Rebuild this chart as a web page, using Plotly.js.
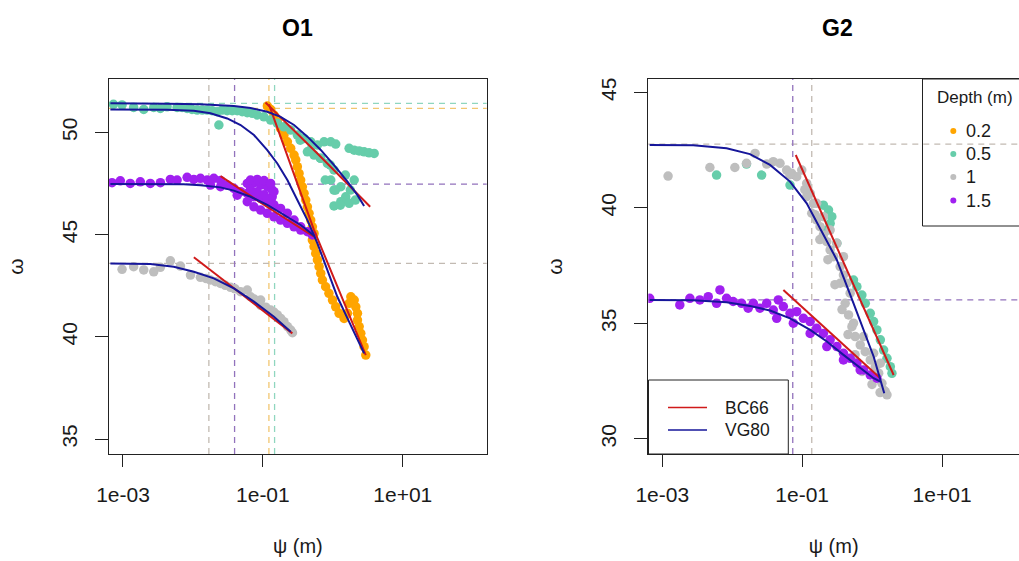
<!DOCTYPE html>
<html>
<head>
<meta charset="utf-8">
<script src="https://cdn.plot.ly/plotly-3.0.1.min.js"></script>
<style>
html,body{margin:0;padding:0;background:#fff;}
#chart{width:1019px;height:561px;}
</style>
</head>
<body>
<div id="chart"></div>
<script>
// ================= DATA =================
const depthLabels = ['0.2', '0.5', '1', '1.5'];
const depthColors = ['#FFA500', '#66CDAA', '#BEBEBE', '#A020F0'];
const dashColors  = ['#F2C670', '#8FD6BF', '#C2BAB2', '#9272BC'];
const modelNames  = ['BC66', 'VG80'];
const modelColors = ['#D01A1A', '#16169A'];
const panelTitles = ['O1', 'G2'];
const xTickVals = [0.001, 0.1, 10];
const xTickText = ['1e-03', '1e-01', '1e+01'];
const yTicksO1 = [35, 40, 45, 50];
const yTicksG2 = [30, 35, 40, 45];

// ---- O1 observations (psi in m, omega) ----
const O1_d02_psi = [0.116,0.129,0.144,0.161,0.179,0.200,0.224,0.250,0.279,0.295,0.311,0.329,0.347,0.367,0.388,0.410,0.433,0.457,0.483,0.510,0.539,0.510,0.539,0.570,0.602,0.636,0.672,0.71,0.79,0.88,0.99,1.10,1.23,1.45,1.62,1.71,1.81,2.02,2.13,2.25,2.25,2.38,2.51,2.65,2.80,2.96];
const O1_d02_w   = [51.29,51.12,50.85,50.52,50.19,49.87,49.54,49.22,48.89,48.65,48.32,47.99,47.67,47.34,47.02,46.69,46.36,46.04,45.71,45.38,45.06,44.73,44.41,44.08,43.76,43.43,43.10,42.78,42.45,42.13,41.80,41.47,41.15,40.90,41.15,41.64,41.96,41.80,41.47,41.15,40.82,40.50,40.17,39.84,39.52,39.11];

const O1_d05_psi = [7.3e-4,9.7e-4,1.42e-3,1.98e-3,2.75e-3,4.27e-3,5.94e-3,8.26e-3,0.0115,0.0160,0.0222,0.0235,0.0309,0.0430,0.0598,0.0832,0.1035,0.129,0.161,0.200,0.250,0.311,0.388,0.483,0.602,0.750,0.934,1.10,0.433,0.539,0.672,0.837,1.04,0.934,1.04,1.30,1.53,1.30,1.04,1.71,2.02,1.71,2.02,2.38,2.80,3.30,3.90,3.42e-3,7.0e-3,9.7e-3,0.0136,0.0188,0.0262,0.0365,0.0507,0.0705,0.342,0.476,0.662,0.92,0.78,1.09,1.51,1.78,1.28,2.10];
const O1_d05_w   = [51.37,51.34,51.22,51.12,51.22,51.25,51.22,51.17,51.09,51.09,51.01,50.36,51.06,51.06,50.96,50.85,50.76,50.60,50.44,50.27,50.11,49.87,49.70,49.54,49.38,49.54,49.54,49.43,49.05,48.89,48.73,48.48,48.16,47.67,47.18,47.34,46.85,46.61,46.40,46.53,47.67,49.22,49.13,49.09,49.05,49.00,48.97,51.17,51.22,51.12,51.09,51.06,51.09,51.06,51.01,50.93,49.62,49.13,48.74,48.40,47.67,47.18,47.91,47.18,46.44,46.69];

const O1_d1_psi = [9.7e-4,1.42e-3,1.98e-3,2.75e-3,3.42e-3,4.76e-3,6.63e-3,9.22e-3,0.0128,0.0178,0.0248,0.0345,0.0480,0.0598,0.0667,0.0929,0.0929,0.129,0.161,0.200,0.250,0.0155,0.021,0.029,0.040,0.075,0.110,0.145,0.180,0.225,0.265];
const O1_d1_w   = [43.30,43.43,43.27,43.18,43.40,43.72,43.46,43.02,42.91,42.78,42.61,42.42,42.21,42.29,41.96,41.80,41.54,41.31,41.07,40.74,40.33,42.85,42.70,42.52,42.35,41.85,41.45,41.20,40.90,40.50,40.20];

const O1_d15_psi = [6.96e-4,9.16e-4,1.27e-3,1.77e-3,2.46e-3,3.43e-3,4.76e-3,5.94e-3,8.26e-3,0.0103,0.0128,0.0160,0.0199,0.0248,0.0178,0.0248,0.0309,0.0385,0.0480,0.0430,0.0598,0.0598,0.0745,0.0745,0.0929,0.0929,0.1156,0.1156,0.144,0.144,0.0598,0.0745,0.0929,0.1156,0.136,0.136,0.179,0.179,0.224,0.224,0.279,0.279,0.347,0.347,0.433,0.510,0.0665,0.0830,0.104,0.129,0.144,0.136,0.0665,0.083,0.104,0.12];
const O1_d15_w   = [47.54,47.63,47.50,47.58,47.50,47.54,47.70,47.67,47.80,47.70,47.75,47.67,47.75,47.64,47.42,47.34,47.42,47.26,47.10,46.93,47.01,46.61,46.85,46.36,46.77,46.20,46.61,46.04,46.45,45.87,47.50,47.54,47.42,47.34,47.18,46.85,46.28,45.71,46.04,45.55,45.71,45.38,45.38,45.22,45.14,44.98,47.67,47.70,47.64,47.50,47.10,46.50,47.20,47.10,46.95,46.75];

// ---- O1 fitted curves ----
const O1_vg02_psi = [6.6e-4,1.42e-3,4.27e-3,0.0103,0.0178,0.0309,0.0480,0.0745,0.1156,0.161,0.224,0.311,0.433,0.602,0.837,1.16,1.62,2.25,2.80];
const O1_vg02_w   = [51.12,51.12,51.11,51.06,50.93,50.68,50.36,49.87,49.13,48.48,47.67,46.69,45.71,44.57,43.27,41.96,40.90,39.92,39.19];
const O1_vg05_psi = [6.6e-4,1.42e-3,4.27e-3,0.0128,0.0385,0.0667,0.1156,0.179,0.279,0.433,0.672,1.04,1.62,2.25,2.80];
const O1_vg05_w   = [51.42,51.42,51.40,51.37,51.29,51.19,51.01,50.76,50.36,49.79,49.14,48.40,47.59,46.93,46.40];
const O1_vg1_psi  = [6.6e-4,2.46e-3,5.32e-3,0.0103,0.0199,0.0385,0.0745,0.144,0.250];
const O1_vg1_w    = [43.59,43.56,43.43,43.18,42.86,42.37,41.72,40.98,40.25];
const O1_vg15_psi = [6.6e-4,2.46e-3,7.39e-3,0.0128,0.0248,0.0385,0.0667,0.1156,0.200,0.347,0.539];
const O1_vg15_w   = [47.47,47.47,47.46,47.41,47.31,47.15,46.85,46.45,45.96,45.47,44.95];
const O1_bc02_psi = [0.122,0.539,2.96];
const O1_bc02_w   = [51.37,45.22,39.11];
const O1_bc05_psi = [0.109,0.602,3.42];
const O1_bc05_w   = [51.46,48.97,46.36];
const O1_bc1_psi  = [0.0103,0.264];
const O1_bc1_w    = [43.89,40.17];
const O1_bc15_psi = [0.0248,0.1156,0.539];
const O1_bc15_w   = [47.86,46.35,44.90];

// ---- O1 reference (dashed) lines: psi_b and saturated omega ----
const O1_vlines = [0.122, 0.147, 0.0169, 0.0394];   // 0.2, 0.5, 1, 1.5
const O1_hlines = [51.17, 51.42, 43.59, 47.47];

// ---- G2 observations ----
const G2_d05_psi = [5.97e-3,0.0160,0.0263,0.0670,0.201,0.238,0.265,0.251,0.225,0.313,0.542,0.605,0.714,0.798,0.940,1.05,1.17,1.31,1.46,1.63,1.82,1.92];
const G2_d05_w   = [41.42,41.90,41.42,40.99,40.12,39.91,39.62,39.33,39.04,38.47,36.88,36.59,36.23,35.87,35.44,35.08,34.72,34.29,33.85,33.49,33.13,32.84];
const G2_d1_psi = [1.21e-3,4.79e-3,0.0109,0.0160,0.0212,0.0311,0.0386,0.0482,0.0600,0.0708,0.0835,0.0986,0.116,0.130,0.145,0.137,0.161,0.180,0.201,0.225,0.251,0.281,0.349,0.389,0.435,0.485,0.412,0.46,0.514,0.573,0.676,0.797,0.940,1.11,1.24,1.38,1.54,0.161,0.201,0.251,0.313,0.389,0.116,0.349,0.542,0.754,1.05,1.31,1.46,1.63,0.0667,0.109,0.152,0.179,0.233,0.294,0.371,0.452,0.569,0.716,0.996,1.30];
const G2_d1_w   = [41.38,41.75,41.75,41.93,42.36,41.90,42.00,41.93,41.64,41.50,41.35,41.64,41.06,40.63,40.20,39.77,39.48,39.19,38.83,38.54,38.18,37.89,37.46,37.10,36.74,36.31,35.87,35.37,34.86,34.43,34.07,33.78,33.42,33.13,32.85,32.41,32.05,40.20,39.62,39.04,38.47,37.89,40.49,36.74,35.01,34.43,33.71,33.28,32.12,31.91,41.44,40.79,39.71,38.63,37.76,36.68,35.60,34.52,33.65,32.92,32.36,32.01];
const G2_d15_psi = [6.6e-4,1.78e-3,2.48e-3,3.44e-3,4.54e-3,5.97e-3,6.67e-3,8.30e-3,0.0103,0.0136,0.0169,0.0200,0.0249,0.0311,0.0386,0.0456,0.0538,0.0670,0.0835,0.104,0.130,0.161,0.201,0.251,0.313,0.389,0.485,0.605,0.754,0.940,1.17,0.0432,0.0748,0.130,0.225,0.389,0.675];
const G2_d15_w   = [36.09,35.80,36.09,36.02,36.16,35.87,36.45,36.09,35.95,35.87,35.66,35.87,35.66,35.87,35.58,36.02,35.73,35.44,35.51,35.22,35.08,34.79,34.57,34.29,34.00,33.71,33.49,33.28,32.99,32.77,32.63,35.22,35.01,34.57,34.00,33.42,32.99];

// ---- G2 fitted curves ----
const G2_vg1_psi  = [6.6e-4,2.77e-3,8.30e-3,0.0179,0.0347,0.0670,0.116,0.180,0.313,0.542,1.05,1.49];
const G2_vg1_w    = [42.72,42.71,42.58,42.33,41.86,41.14,40.20,39.12,37.75,35.87,33.57,31.98];
const G2_vg15_psi = [6.6e-4,2.77e-3,8.30e-3,0.0179,0.0347,0.0670,0.130,0.225,0.389,0.675,1.05,1.31];
const G2_vg15_w   = [36.02,36.00,35.92,35.76,35.56,35.22,34.72,34.22,33.64,33.06,32.63,32.48];
const G2_bc1_psi  = [0.0809,0.389,2.03];
const G2_bc1_w    = [42.29,37.67,32.77];
const G2_bc15_psi = [0.0538,1.31];
const G2_bc15_w   = [36.45,32.63];

const G2_vlines = [0.137, 0.0733];   // 1, 1.5
const G2_hlines = [42.76, 36.02];

// ================= BUILD =================
const FONT = 'Arial, "Liberation Sans", sans-serif';
const TXT = '#1a1a1a';
const traces = [];

function pts(x, y, ci, xa, ya) {
  traces.push({type:'scatter', mode:'markers', x:x, y:y, xaxis:xa, yaxis:ya,
    marker:{color:depthColors[ci], size:9.5, line:{width:0}}, showlegend:false, hoverinfo:'skip'});
}
function curve(x, y, mi, xa, ya) {
  traces.push({type:'scatter', mode:'lines', x:x, y:y, xaxis:xa, yaxis:ya,
    line:{color:modelColors[mi], width:2}, showlegend:false, hoverinfo:'skip'});
}

// O1
pts(O1_d02_psi, O1_d02_w, 0, 'x', 'y');
pts(O1_d05_psi, O1_d05_w, 1, 'x', 'y');
pts(O1_d15_psi, O1_d15_w, 3, 'x', 'y');
pts(O1_d1_psi,  O1_d1_w,  2, 'x', 'y');
curve(O1_bc05_psi, O1_bc05_w, 0, 'x', 'y');
curve(O1_bc02_psi, O1_bc02_w, 0, 'x', 'y');
curve(O1_bc15_psi, O1_bc15_w, 0, 'x', 'y');
curve(O1_bc1_psi,  O1_bc1_w,  0, 'x', 'y');
curve(O1_vg05_psi, O1_vg05_w, 1, 'x', 'y');
curve(O1_vg02_psi, O1_vg02_w, 1, 'x', 'y');
curve(O1_vg15_psi, O1_vg15_w, 1, 'x', 'y');
curve(O1_vg1_psi,  O1_vg1_w,  1, 'x', 'y');
// G2
pts(G2_d05_psi, G2_d05_w, 1, 'x2', 'y2');
pts(G2_d1_psi,  G2_d1_w,  2, 'x2', 'y2');
pts(G2_d15_psi, G2_d15_w, 3, 'x2', 'y2');
curve(G2_bc1_psi,  G2_bc1_w,  0, 'x2', 'y2');
curve(G2_bc15_psi, G2_bc15_w, 0, 'x2', 'y2');
curve(G2_vg1_psi,  G2_vg1_w,  1, 'x2', 'y2');
curve(G2_vg15_psi, G2_vg15_w, 1, 'x2', 'y2');

// ---- dashed reference lines ----
const shapes = [];
const DASH = '6px,5px';
function vline(v, col, xa, ya) {
  shapes.push({type:'line', layer:'below', xref:xa, yref:ya+' domain', x0:v, x1:v, y0:0, y1:1,
    line:{color:col, width:1.3, dash:DASH}});
}
function hline(v, col, xa, ya) {
  shapes.push({type:'line', layer:'below', xref:xa+' domain', yref:ya, x0:0, x1:1, y0:v, y1:v,
    line:{color:col, width:1.3, dash:DASH}});
}
[0,1,2,3].forEach(i => { vline(O1_vlines[i], dashColors[i], 'x', 'y'); hline(O1_hlines[i], dashColors[i], 'x', 'y'); });
[2,3].forEach((c,i) => { vline(G2_vlines[i], dashColors[c], 'x2', 'y2'); hline(G2_hlines[i], dashColors[c], 'x2', 'y2'); });

// ---- geometry helpers (pixel -> paper) ----
const W = 1019, H = 561, ML = 109, MR = 0, MT = 79, MB = 107;
const PW = W - ML - MR, PH = H - MT - MB;
const px = v => (v - ML) / PW;
const py = v => (H - MB - v) / PH;

// ---- legend: Depth (m) ----
const annotations = [];
shapes.push({type:'rect', xref:'paper', yref:'paper', x0:px(922.5), x1:px(1030), y0:py(226), y1:py(79),
  line:{color:'#222', width:1}, fillcolor:'rgba(0,0,0,0)'});
annotations.push({xref:'paper', yref:'paper', x:px(935), y:py(98), xanchor:'left', yanchor:'middle',
  text:'Depth (m)', showarrow:false, font:{family:FONT, size:17, color:TXT}});
const legY = [131, 154, 177, 200.5];
depthLabels.forEach((lab, i) => {
  shapes.push({type:'circle', xref:'paper', yref:'paper', xsizemode:'pixel', ysizemode:'pixel',
    xanchor:px(953.3), yanchor:py(legY[i]), x0:-3, x1:3, y0:-3, y1:3,
    fillcolor:depthColors[i], line:{width:0}});
  annotations.push({xref:'paper', yref:'paper', x:px(964), y:py(legY[i]), xanchor:'left', yanchor:'middle',
    text:lab, showarrow:false, font:{family:FONT, size:18, color:TXT}});
});

// ---- legend: models ----
shapes.push({type:'rect', xref:'paper', yref:'paper', x0:px(648.5), x1:px(788.3), y0:py(454), y1:py(380),
  line:{color:'#222', width:1}, fillcolor:'rgba(0,0,0,0)'});
const modY = [407.5, 430];
modelNames.forEach((m, i) => {
  shapes.push({type:'line', xref:'paper', yref:'paper', x0:px(668), x1:px(707), y0:py(modY[i]), y1:py(modY[i]),
    line:{color:modelColors[i], width:1.3}});
  annotations.push({xref:'paper', yref:'paper', x:px(723), y:py(modY[i]), xanchor:'left', yanchor:'middle',
    text:m, showarrow:false, font:{family:FONT, size:17.5, color:TXT}});
});

// ---- panel titles ----
annotations.push({xref:'paper', yref:'paper', x:px(297.8), y:py(28), xanchor:'center', yanchor:'middle',
  text:'<b>'+panelTitles[0]+'</b>', showarrow:false, font:{family:FONT, size:23, color:'#000'}});
annotations.push({xref:'paper', yref:'paper', x:px(837), y:py(28), xanchor:'center', yanchor:'middle',
  text:'<b>'+panelTitles[1]+'</b>', showarrow:false, font:{family:FONT, size:23, color:'#000'}});

// ---- axes ----
const baseX = {
  type:'log', tickvals:xTickVals, ticktext:xTickText, ticks:'outside', ticklen:12, tickwidth:1,
  tickcolor:'#222', showline:true, linecolor:'#222', linewidth:1, mirror:true, showgrid:false,
  zeroline:false, tickfont:{family:FONT, size:21, color:TXT}, ticklabelstandoff:10,
  title:{text:'ψ (m)', font:{family:FONT, size:20, color:TXT}, standoff:33}
};
const baseY = {
  ticks:'outside', ticklen:13, tickwidth:1, tickcolor:'#222', showline:true, linecolor:'#222', linewidth:1,
  showgrid:false, zeroline:false, tickangle:-90, tickfont:{family:FONT, size:21, color:TXT},
  ticklabelstandoff:10,
  title:{text:'ω', font:{family:FONT, size:21, color:TXT}, standoff:28}
};

const layout = {
  width:W, height:H, margin:{l:ML, r:MR, t:MT, b:MB, pad:0},
  paper_bgcolor:'#fff', plot_bgcolor:'#fff', showlegend:false,
  xaxis: Object.assign({}, baseX, {domain:[0, 377.7/PW], range:[-3.2, 2.2], anchor:'y'}),
  yaxis: Object.assign({}, baseY, {domain:[0,1], range:[34.27, 52.61], tickvals:yTicksO1, anchor:'x', mirror:true}),
  xaxis2: Object.assign({}, baseX, {domain:[px(648.3), 1], range:[-3.2, 2.0996], anchor:'y2'}),
  yaxis2: Object.assign({}, baseY, {domain:[0,1], range:[29.35, 45.58], tickvals:yTicksG2, anchor:'x2', mirror:false}),
  shapes:shapes, annotations:annotations
};

Plotly.newPlot('chart', traces, layout, {displayModeBar:false, staticPlot:true});
</script>
</body>
</html>
